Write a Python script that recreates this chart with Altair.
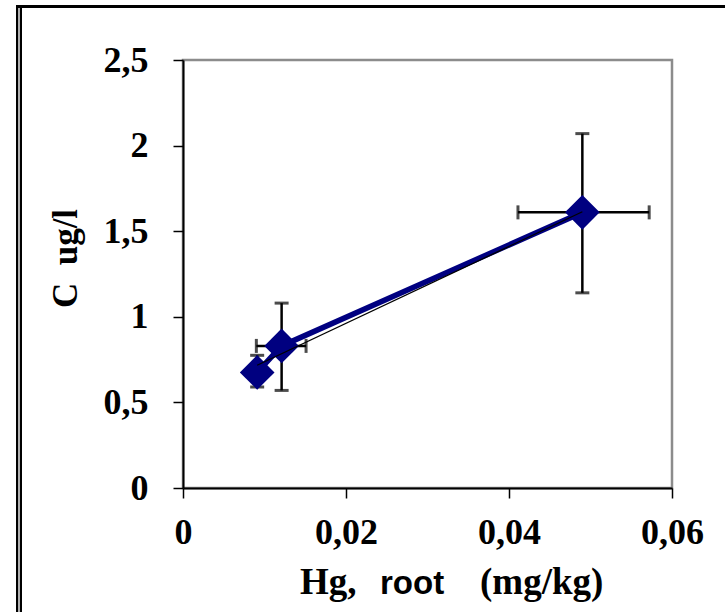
import altair as alt
import pandas as pd

# Hg in root (mg/kg) against dissolved concentration C (ug/l)
hg = [0.0091, 0.0121, 0.0490]
c = [0.675, 0.83, 1.61]
c_lo = [0.59, 0.57, 1.14]
c_hi = [0.775, 1.08, 2.07]
hg_lo = [0.0084, 0.0090, 0.0411]
hg_hi = [0.0098, 0.0151, 0.0572]

x_ticks = [0, 0.02, 0.04, 0.06]
y_ticks = [0, 0.5, 1, 1.5, 2, 2.5]

df = pd.DataFrame({"hg": hg, "c": c, "c_lo": c_lo, "c_hi": c_hi,
                   "hg_lo": hg_lo, "hg_hi": hg_hi, "order": [0, 1, 2]})

W, H = 489, 428
PAD = {"left": 183, "top": 60, "right": 53, "bottom": 124}
SERIF = "Liberation Serif"
SANS = "Liberation Sans"
NAVY = "#000080"
comma_label = "replace(toString(datum.value), '.', ',')"

xs = alt.Scale(domain=[0, 0.06], nice=False, zero=False)
ys = alt.Scale(domain=[0, 2.5], nice=False, zero=False)

x_axis = alt.Axis(values=x_ticks, labelExpr=comma_label, title=None,
                  labelFont=SERIF, labelFontWeight="bold", labelFontSize=36,
                  labelColor="black", labelPadding=17, labelFlush=False,
                  labelOverlap=False, grid=False, domainColor="black",
                  domainWidth=2, tickColor="black", tickWidth=1.5, tickSize=10)
y_axis = alt.Axis(values=y_ticks, labelExpr=comma_label,
                  title="C\u00a0\u00a0ug/l",
                  labelFont=SERIF, labelFontWeight="bold", labelFontSize=36,
                  labelColor="black", labelPadding=25, labelFlush=False,
                  labelOverlap=False, grid=False, domainColor="black",
                  domainWidth=2, tickColor="black", tickWidth=1.5, tickSize=10,
                  titleFont=SERIF, titleFontWeight="bold", titleFontSize=35,
                  titleColor="black", titleX=-118, titleY=198,
                  titleAlign="center", titleBaseline="middle", titleAngle=270)

base = alt.Chart(df)

# vertical and horizontal error bars
ybar = base.mark_rule(color="black", strokeWidth=2.5).encode(
    x=alt.X("hg:Q", scale=xs, axis=x_axis),
    y=alt.Y("c_lo:Q", scale=ys, axis=y_axis), y2="c_hi:Q")
xbar = base.mark_rule(color="black", strokeWidth=2.5).encode(
    x=alt.X("hg_lo:Q", scale=xs), x2="hg_hi:Q", y=alt.Y("c:Q", scale=ys))
cap_lo = base.mark_tick(color="black", orient="horizontal", size=14, thickness=3).encode(
    x=alt.X("hg:Q", scale=xs), y=alt.Y("c_lo:Q", scale=ys))
cap_hi = base.mark_tick(color="black", orient="horizontal", size=14, thickness=3).encode(
    x=alt.X("hg:Q", scale=xs), y=alt.Y("c_hi:Q", scale=ys))
cap_l = base.mark_tick(color="black", orient="vertical", size=14, thickness=3).encode(
    x=alt.X("hg_lo:Q", scale=xs), y=alt.Y("c:Q", scale=ys))
cap_r = base.mark_tick(color="black", orient="vertical", size=14, thickness=3).encode(
    x=alt.X("hg_hi:Q", scale=xs), y=alt.Y("c:Q", scale=ys))

series_line = base.mark_line(color=NAVY, strokeWidth=5.5).encode(
    x=alt.X("hg:Q", scale=xs), y=alt.Y("c:Q", scale=ys), order="order:Q")
markers = base.mark_point(shape="diamond", filled=True, size=1200, color=NAVY,
                          opacity=1).encode(
    x=alt.X("hg:Q", scale=xs), y=alt.Y("c:Q", scale=ys))
trend = base.transform_regression("hg", "c").mark_line(
    color="black", strokeWidth=1.3).encode(
    x=alt.X("hg:Q", scale=xs), y=alt.Y("c:Q", scale=ys))

# x-axis title set in mixed faces
one = alt.Data(values=[{}])
t_hg = alt.Chart(one).mark_text(text="Hg,", font=SERIF, fontWeight="bold",
                                fontSize=37, align="left", baseline="alphabetic",
                                color="black").encode(x=alt.value(117), y=alt.value(534))
t_root = alt.Chart(one).mark_text(text="root", font=SANS, fontWeight="bold",
                                  fontSize=33, align="left", baseline="alphabetic",
                                  color="black").encode(x=alt.value(197), y=alt.value(534))
t_unit = alt.Chart(one).mark_text(text="(mg/kg)", font=SERIF, fontWeight="bold",
                                  fontSize=37, align="left", baseline="alphabetic",
                                  color="black").encode(x=alt.value(297), y=alt.value(534))

# outer double frame (top and left edges)
frame_top = alt.Chart(one).mark_rule(color="black", strokeWidth=3).encode(
    x=alt.value(-167), x2=alt.value(560), y=alt.value(-53.5))
frame_left = alt.Chart(one).mark_rule(color="black", strokeWidth=6).encode(
    x=alt.value(-164), y=alt.value(-55), y2=alt.value(560))
frame_left_in = alt.Chart(one).mark_rule(color="#b0b0b0", strokeWidth=2).encode(
    x=alt.value(-164), y=alt.value(-52), y2=alt.value(560))

chart = alt.layer(
    ybar, xbar, cap_lo, cap_hi, cap_l, cap_r, series_line, markers, trend,
    t_hg, t_root, t_unit, frame_top, frame_left, frame_left_in
).properties(
    width=W, height=H, padding=PAD, autosize="none", background="white"
).configure_view(stroke="#8c8c8c", strokeWidth=2.5)

chart.save("out.html", embed_options={"renderer": "svg", "actions": False})
